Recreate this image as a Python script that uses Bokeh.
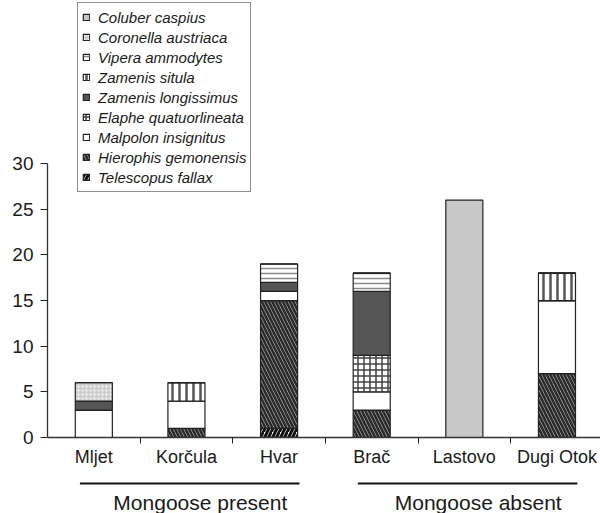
import numpy as np
from bokeh.plotting import figure
from bokeh.models import ColumnDataSource, FixedTicker, Range1d, Legend, LegendItem
from bokeh.layouts import column
from bokeh.transform import stack
from bokeh.embed import file_html
from bokeh.resources import INLINE
from bokeh.core.properties import value

# ---------------- data ----------------
islands = ["Mljet", "Korčula", "Hvar", "Brač", "Lastovo", "Dugi Otok"]

# stacking order bottom -> top
species = ["Telescopus fallax", "Hierophis gemonensis", "Malpolon insignitus",
           "Elaphe quatuorlineata", "Zamenis longissimus", "Zamenis situla",
           "Vipera ammodytes", "Coronella austriaca", "Coluber caspius"]

telescopus_fallax     = [0, 0, 1, 0, 0, 0]
hierophis_gemonensis  = [0, 1, 14, 3, 0, 7]
malpolon_insignitus   = [3, 3, 1, 2, 0, 8]
elaphe_quatuorlineata = [0, 0, 0, 4, 0, 0]
zamenis_longissimus   = [1, 0, 1, 7, 0, 0]
zamenis_situla        = [0, 2, 0, 0, 0, 3]
vipera_ammodytes      = [0, 0, 2, 2, 0, 0]
coronella_austriaca   = [2, 0, 0, 0, 0, 0]
coluber_caspius       = [0, 0, 0, 0, 26, 0]

y_ticks = [0, 5, 10, 15, 20, 25, 30]

groups = ["Mongoose present", "Mongoose absent"]
group_members = [["Mljet", "Korčula", "Hvar"], ["Brač", "Lastovo", "Dugi Otok"]]

series = [telescopus_fallax, hierophis_gemonensis, malpolon_insignitus,
          elaphe_quatuorlineata, zamenis_longissimus, zamenis_situla,
          vipera_ammodytes, coronella_austriaca, coluber_caspius]

# ---------------- styles ----------------
FONT = "Liberation Sans"
TXT = "#1a1a1a"
styles = [
    dict(fill_color="white", hatch_pattern="right_diagonal_line", hatch_color="#111111", hatch_weight=3, hatch_scale=8),
    dict(fill_color="#c4c4c4", hatch_pattern="left_diagonal_line", hatch_color="#2a2a2a", hatch_weight=2.6, hatch_scale=7),
    dict(fill_color="white"),
    dict(fill_color="white", hatch_pattern="cross", hatch_color="#444444", hatch_weight=1.5, hatch_scale=6),
    dict(fill_color="#555555"),
    dict(fill_color="white", hatch_pattern="vertical_line", hatch_color="#555555", hatch_weight=2.5, hatch_scale=7),
    dict(fill_color="white", hatch_pattern="horizontal_line", hatch_color="#8a8a8a", hatch_weight=1.5, hatch_scale=5),
    dict(fill_color="#cfcfcf", hatch_pattern="dot", hatch_color="#ffffff", hatch_weight=1, hatch_scale=4),
    dict(fill_color="#c8c8c8"),
]

keys = ["s%d" % i for i in range(len(species))]
data = {"x": np.arange(len(islands)) + 0.5}
for k, vals in zip(keys, series):
    data[k] = vals
src = ColumnDataSource(data)

n = len(islands)
p = figure(width=600, height=477, x_range=Range1d(0, 5.97), y_range=Range1d(0, 47.86),
           output_backend="svg", toolbar_location=None,
           min_border_left=47, min_border_right=0, min_border_top=0, min_border_bottom=40)
p.outline_line_color = None
p.xgrid.grid_line_color = None
p.ygrid.grid_line_color = None
p.background_fill_color = "white"
p.border_fill_color = "white"

renderers = []
for i, k in enumerate(keys):
    bottom = stack(*keys[:i]) if i > 0 else 0
    r = p.vbar(x="x", width=0.4, bottom=bottom, top=stack(*keys[:i + 1]), source=src,
               line_color="#222222", line_width=1.2, **styles[i])
    renderers.append(r)

# axes
xa = p.xaxis[0]
xa.ticker = FixedTicker(ticks=list(np.arange(n) + 0.5), minor_ticks=list(np.arange(1, n)))
xa.major_label_overrides = {float(c): name for c, name in zip(np.arange(n) + 0.5, islands)}
xa.major_tick_out = 0
xa.major_tick_in = 0
xa.minor_tick_out = 6
xa.minor_tick_in = 0
xa.minor_tick_line_color = "#222222"
xa.axis_line_color = "#333333"
xa.axis_line_width = 1.3
xa.major_label_text_font = FONT
xa.major_label_text_font_size = "18px"
xa.major_label_text_color = TXT
xa.major_label_standoff = 3

ya = p.yaxis[0]
ya.ticker = FixedTicker(ticks=y_ticks)
ya.bounds = (0, 30)
ya.major_tick_out = 7
ya.major_tick_in = 0
ya.minor_tick_line_color = None
ya.major_tick_line_color = "#222222"
ya.axis_line_color = "#333333"
ya.axis_line_width = 1.3
ya.major_label_text_font = FONT
ya.major_label_text_font_size = "19px"
ya.major_label_text_color = TXT
ya.major_label_standoff = 7

# legend (top of stack listed first)
items = [LegendItem(label=species[i], renderers=[renderers[i]]) for i in reversed(range(len(species)))]
legend = Legend(items=items, location=(30, 245), orientation="vertical",
                label_text_font=FONT, label_text_font_style="italic",
                label_text_font_size="15px", label_text_color=TXT,
                label_height=20, label_standoff=8, glyph_width=8, glyph_height=8,
                spacing=0, padding=4, margin=0,
                border_line_color="#222222", border_line_width=1,
                background_fill_color="white", background_fill_alpha=1)
p.add_layout(legend, "center")

# group labels below
p2 = figure(width=600, height=36, x_range=p.x_range, y_range=Range1d(36, 0),
            output_backend="svg", toolbar_location=None,
            x_axis_type=None, y_axis_type=None,
            min_border_left=47, min_border_right=0, min_border_top=0, min_border_bottom=0)
p2.outline_line_color = None

g_start, g_end, g_mid = [], [], []
for members in group_members:
    idx = [islands.index(m) + 0.5 for m in members]
    g_start.append(min(idx) - 0.15)
    g_end.append(max(idx) + 0.22)
    g_mid.append((min(idx) + max(idx)) / 2 + 0.15)

p2.segment(x0=g_start, x1=g_end, y0=[6] * len(groups), y1=[6] * len(groups),
           line_color="#111111", line_width=2)
p2.text(x=g_mid, y=[25] * len(groups), text=groups, text_align="center",
        text_baseline="middle", text_font=value(FONT), text_font_size="21px",
        text_color=TXT)

layout = column(p, p2, spacing=0)
open("out.html", "w").write(file_html(layout, INLINE))
